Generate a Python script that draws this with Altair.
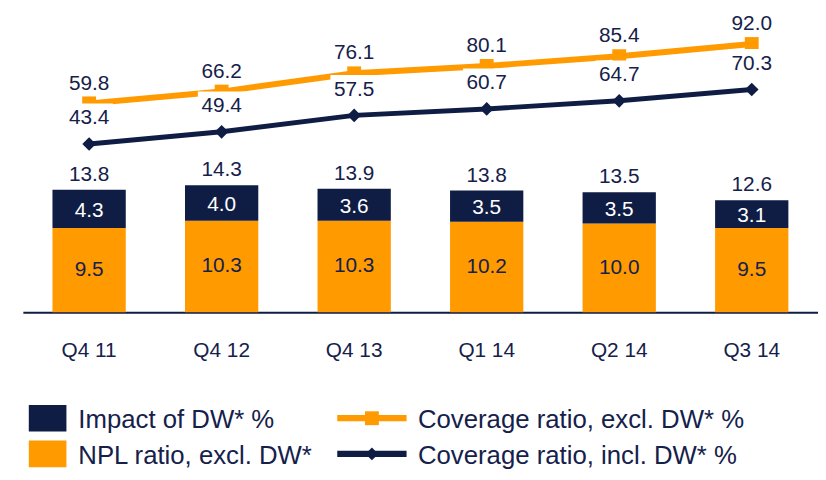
import altair as alt
import pandas as pd

# ---------------- data ----------------
quarters = ["Q4 11", "Q4 12", "Q4 13", "Q1 14", "Q2 14", "Q3 14"]
npl_ratio = [9.5, 10.3, 10.3, 10.2, 10.0, 9.5]          # NPL ratio, excl. DW*
dw_impact = [4.3, 4.0, 3.6, 3.5, 3.5, 3.1]              # Impact of DW* %
npl_total = [13.8, 14.3, 13.9, 13.8, 13.5, 12.6]        # total labels
cov_excl = [59.8, 66.2, 76.1, 80.1, 85.4, 92.0]         # Coverage ratio, excl. DW* %
cov_incl = [43.4, 49.4, 57.5, 60.7, 64.7, 70.3]         # Coverage ratio, incl. DW* %

legend_labels = ["Impact of DW* %", "NPL ratio, excl. DW*",
                 "Coverage ratio, excl. DW* %", "Coverage ratio, incl. DW* %"]
legend_col = [0, 0, 1, 1]
legend_row = [0, 1, 0, 1]
legend_kind = ["box", "box", "sq", "dia"]

# ---------------- styles ----------------
NAVY = "#0f1d45"
ORANGE = "#ff9a00"
TEXT = "#15214b"
FONT = "Liberation Sans"

bars_df = pd.DataFrame({
    "quarter": quarters * 2,
    "series": ["NPL"] * len(quarters) + ["DW"] * len(quarters),
    "value": npl_ratio + dw_impact,
    "ord": [0] * len(quarters) + [1] * len(quarters),
})
lab_df = pd.DataFrame({"quarter": quarters, "npl": npl_ratio, "dw": dw_impact, "total": npl_total})
lab_df["npl_mid"] = lab_df["npl"] / 2
lab_df["dw_mid"] = lab_df["npl"] + lab_df["dw"] / 2
lab_df["top"] = lab_df["npl"] + lab_df["dw"]
lines_df = pd.DataFrame({"quarter": quarters, "excl": cov_excl, "incl": cov_incl})

leg_colors = [NAVY, ORANGE, ORANGE, NAVY]
leg_df = pd.DataFrame({"label": legend_labels, "col": legend_col, "row": legend_row,
                       "kind": legend_kind, "color": leg_colors})

x_enc = alt.X("quarter:N", sort=quarters,
              scale=alt.Scale(paddingInner=0.447, paddingOuter=0.2235),
              axis=alt.Axis(title=None, labelAngle=0, ticks=False, labelPadding=28,
                            labelFontSize=21, labelColor=TEXT, labelFont=FONT,
                            domainColor=NAVY, domainWidth=2, grid=False))

ybar = alt.Scale(domain=[0, 34], nice=False, zero=True)
yex = alt.Scale(domain=[-53.5, 110.3], nice=False, zero=False)
yin = alt.Scale(domain=[-39.7, 109.4], nice=False, zero=False)

# ---------------- bars ----------------
bar = alt.Chart(bars_df).mark_bar().encode(
    x=x_enc,
    y=alt.Y("value:Q", stack="zero", scale=ybar, axis=None),
    color=alt.Color("series:N", scale=alt.Scale(domain=["NPL", "DW"], range=[ORANGE, NAVY]), legend=None),
    order=alt.Order("ord:Q"),
)
txt_common = dict(font=FONT, fontSize=21, baseline="middle", align="center")
t_total = alt.Chart(lab_df).mark_text(color=TEXT, dy=-15, **txt_common).encode(
    x=x_enc, y=alt.Y("top:Q", scale=ybar, axis=None), text=alt.Text("total:Q", format=".1f"))
t_dw = alt.Chart(lab_df).mark_text(color="white", dy=2, **txt_common).encode(
    x=x_enc, y=alt.Y("dw_mid:Q", scale=ybar, axis=None), text=alt.Text("dw:Q", format=".1f"))
t_npl = alt.Chart(lab_df).mark_text(color=TEXT, dy=0, **txt_common).encode(
    x=x_enc, y=alt.Y("npl_mid:Q", scale=ybar, axis=None), text=alt.Text("npl:Q", format=".1f"))
bars_layer = alt.layer(bar, t_total, t_dw, t_npl)

# ---------------- coverage excl ----------------
ex_base = alt.Chart(lines_df).encode(x=x_enc, y=alt.Y("excl:Q", scale=yex, axis=None))
ex_line = ex_base.mark_line(color=ORANGE, strokeWidth=6)
ex_pts = ex_base.mark_point(shape="square", size=196, filled=True, color=ORANGE, opacity=1)
ex_txt = ex_base.mark_text(color=TEXT, dy=-20, **txt_common).encode(text=alt.Text("excl:Q", format=".1f"))
excl_layer = alt.layer(ex_line, ex_pts, ex_txt)

# ---------------- coverage incl ----------------
in_base = alt.Chart(lines_df).encode(x=x_enc, y=alt.Y("incl:Q", scale=yin, axis=None))
in_line = in_base.mark_line(color=NAVY, strokeWidth=5)
in_pts = in_base.mark_point(shape="diamond", size=190, filled=True, color=NAVY, opacity=1)
in_box = in_base.mark_point(shape="M-1,-1.7H1V-0.45H-1Z", size=2304, filled=True,
                            color="white", opacity=1)
in_txt = in_base.mark_text(color=TEXT, dy=-26, **txt_common).encode(text=alt.Text("incl:Q", format=".1f"))
incl_layer = alt.layer(in_line, in_pts, in_box, in_txt)

data_layer = alt.layer(bars_layer, excl_layer, incl_layer).resolve_scale(y="independent")

# ---------------- legend ----------------
lx = alt.Scale(domain=[0, 1], range=[25, 352.5])
ly = alt.Scale(domain=[0, 1], range=[412, 448])
leg_base = alt.Chart(leg_df).encode(
    x=alt.X("col:Q", scale=lx, axis=None),
    y=alt.Y("row:Q", scale=ly, axis=None),
    color=alt.Color("color:N", scale=None),
)
leg_box = leg_base.transform_filter("datum.kind == 'box'").mark_point(
    shape="M-1,-0.71H1V0.71H-1Z", size=1444, filled=True, opacity=1)
leg_line = leg_base.transform_filter("datum.col == 1").mark_point(
    shape="M-1,-0.09H1V0.09H-1Z", size=4900, filled=True, opacity=1)
leg_sq = leg_base.transform_filter("datum.kind == 'sq'").mark_point(
    shape="square", size=196, filled=True, opacity=1)
leg_dia = leg_base.transform_filter("datum.kind == 'dia'").mark_point(
    shape="diamond", size=170, filled=True, opacity=1)
leg_t0 = alt.Chart(leg_df).transform_filter("datum.col == 0").mark_text(
    align="left", baseline="middle", dx=31, dy=2, font=FONT, fontSize=26, color=TEXT).encode(
    x=alt.X("col:Q", scale=lx, axis=None), y=alt.Y("row:Q", scale=ly, axis=None), text="label:N")
leg_t1 = alt.Chart(leg_df).transform_filter("datum.col == 1").mark_text(
    align="left", baseline="middle", dx=46.5, dy=2, font=FONT, fontSize=26, color=TEXT).encode(
    x=alt.X("col:Q", scale=lx, axis=None), y=alt.Y("row:Q", scale=ly, axis=None), text="label:N")
legend_layer = alt.layer(leg_box, leg_line, leg_sq, leg_dia, leg_t0, leg_t1)

chart = alt.layer(data_layer, legend_layer).resolve_scale(
    x="independent", y="independent"
).properties(
    width=803, height=305,
    autosize=alt.AutoSizeParams(type="none"),
    padding={"left": 15, "top": 0, "right": 0, "bottom": 159},
).configure_view(stroke=None)

chart.save("out.html", embed_options={"renderer": "svg", "actions": False})
